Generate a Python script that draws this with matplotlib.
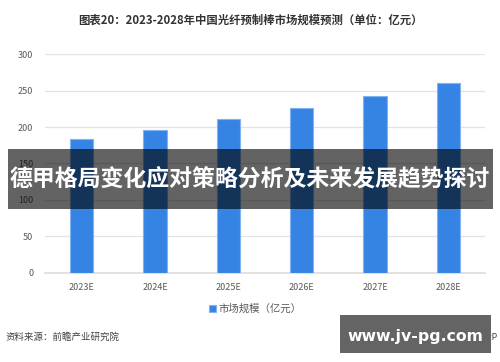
import matplotlib
matplotlib.use("Agg")
import matplotlib.pyplot as plt
from matplotlib.patches import Rectangle

plt.rcParams['font.family'] = ['Noto Sans CJK SC', 'DejaVu Sans']

categories = ['2023E', '2024E', '2025E', '2026E', '2027E', '2028E']
values = [183, 196, 211, 226, 243, 260]
yticks = [0, 50, 100, 150, 200, 250, 300]
title = '图表20：2023-2028年中国光纤预制棒市场规模预测（单位：亿元）'
legend_label = '市场规模（亿元）'
source = '资料来源：前瞻产业研究院'
banner = '德甲格局变化应对策略分析及未来发展趋势探讨'
site = 'www.jv-pg.com'

fig = plt.figure(figsize=(5, 3.62), dpi=100)
ax = fig.add_axes([0.09, 0.2459, 0.88, 0.6049])

x = range(len(categories))
bars = ax.bar(x, values, width=0.32, color='#3584e4', edgecolor='#7fb2f0',
              linewidth=0.8, zorder=3, label=legend_label)
ax.set_xlim(-0.5, len(categories) - 0.5)
ax.set_ylim(0, 300)
ax.set_yticks(yticks)
ax.set_xticks(list(x))
ax.set_xticklabels(categories)
ax.grid(axis='y', color='#e3e3e3', linewidth=0.9, zorder=0)
for s in ['top', 'right', 'left']:
    ax.spines[s].set_visible(False)
ax.spines['bottom'].set_color('#dcdcdc')
ax.spines['bottom'].set_linewidth(1.2)
ax.tick_params(axis='both', length=0, labelsize=6.5, labelcolor='#595959')
ax.tick_params(axis='x', pad=7)
ax.tick_params(axis='y', pad=8.5)

fig.text(0.5, 0.945, title, ha='center', va='center', fontsize=8.2,
         fontweight='bold', color='#333333')

leg = fig.legend(loc='center', bbox_to_anchor=(0.51, 0.147), frameon=False,
                 fontsize=7.5, handlelength=0.7, handleheight=0.7,
                 handletextpad=0.2, labelcolor='#595959')

fig.text(0.01, 0.068, source, ha='left', va='center', fontsize=6.8,
         color='#404040')
fig.text(0.995, 0.068, '@前瞻经济学人APP', ha='right', va='center',
         fontsize=6.3, color='#404040')

# dark translucent banner
fig.patches.append(Rectangle((0.016, 1 - 209 / 362), 0.97, 60 / 362,
                             transform=fig.transFigure, facecolor='black',
                             alpha=0.61, edgecolor='none', zorder=10))
fig.text(0.5, 1 - 180 / 362, banner, ha='center', va='center', fontsize=16.5,
         fontweight='bold', color='white', zorder=11)

fig.patches.append(Rectangle((340 / 500, 1 - 352.7 / 362), 151 / 500, 37.7 / 362,
                             transform=fig.transFigure, facecolor='#646464',
                             edgecolor='none', zorder=10))
fig.text(415 / 500, 1 - 336 / 362, site, ha='center', va='center',
         fontsize=11.3, fontweight='bold', color='white', zorder=11,
         family=['DejaVu Sans'])

fig.savefig('out.png', dpi=100)
